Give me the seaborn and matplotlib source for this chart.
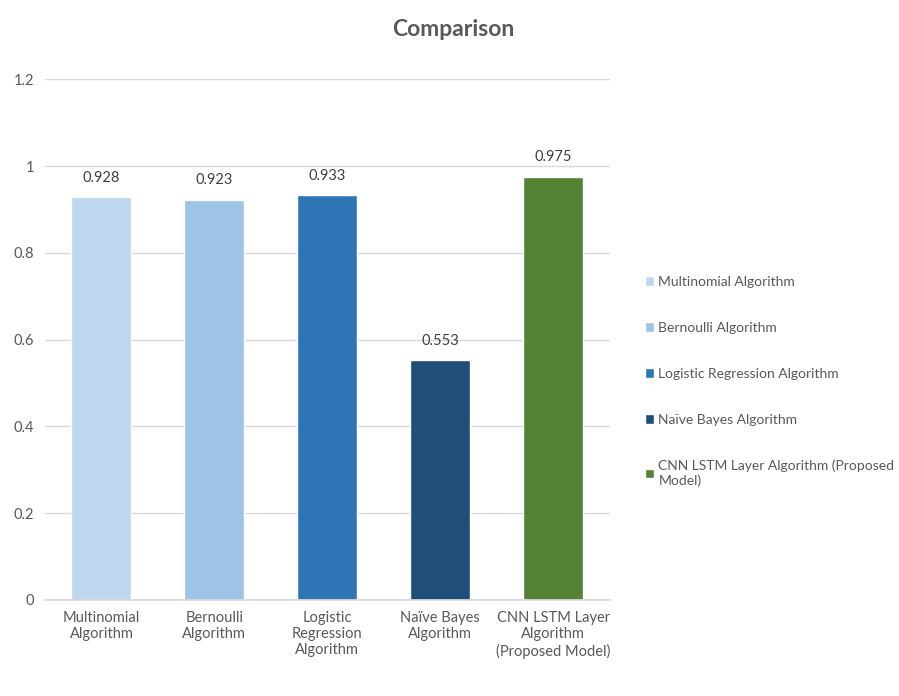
import matplotlib
matplotlib.use("Agg")
import matplotlib.pyplot as plt
import seaborn as sns
import pandas as pd

categories = ["Multinomial\nAlgorithm", "Bernoulli\nAlgorithm", "Logistic\nRegression\nAlgorithm",
              "Naïve Bayes\nAlgorithm", "CNN LSTM Layer\nAlgorithm\n(Proposed Model)"]
legend_labels = ["Multinomial Algorithm", "Bernoulli Algorithm", "Logistic Regression Algorithm",
                 "Naïve Bayes Algorithm", "CNN LSTM Layer Algorithm (Proposed\nModel)"]
values = [0.928, 0.923, 0.933, 0.553, 0.975]
colors = ["#BDD7EE", "#9DC3E6", "#2E75B6", "#1F4E79", "#548235"]

sns.set_theme(style="white")
plt.rcParams['font.family'] = ['Lato', 'DejaVu Sans']

df = pd.DataFrame({"cat": categories, "val": values, "leg": legend_labels})

fig = plt.figure(figsize=(8.99, 6.96), dpi=100)
ax = fig.add_axes([0.05, 0.138, 0.628, 0.748])

sns.barplot(data=df, x="cat", y="val", hue="leg", palette=colors, dodge=False,
            width=0.53, ax=ax, saturation=1, legend=True)

for c in ax.containers:
    ax.bar_label(c, fmt="%.3f", padding=9, fontsize=10.5, color="#404040")

ax.set_ylim(0, 1.2)
ax.set_yticks([0, 0.2, 0.4, 0.6, 0.8, 1.0, 1.2])
ax.set_yticklabels(["0", "0.2", "0.4", "0.6", "0.8", "1", "1.2"])
ax.yaxis.grid(True, color="#D9D9D9", linewidth=1)
ax.set_axisbelow(True)
for s in ["top", "right", "left"]:
    ax.spines[s].set_visible(False)
ax.spines["bottom"].set_color("#D9D9D9")
ax.tick_params(axis="both", length=0, labelsize=10.5, colors="#595959", pad=8)
ax.set_xlabel("")
ax.set_ylabel("")

fig.text(0.504, 0.958, "Comparison", ha="center", va="center", fontsize=16.5,
         fontweight="bold", color="#595959")

handles, labels = ax.get_legend_handles_labels()
ax.legend(handles, labels, loc="center left", bbox_to_anchor=(1.04, 0.42), frameon=False,
          fontsize=10, labelcolor="#595959", handlelength=0.7, handleheight=0.7,
          handletextpad=0.3, labelspacing=2.45)

fig.savefig("out.png", dpi=100)
